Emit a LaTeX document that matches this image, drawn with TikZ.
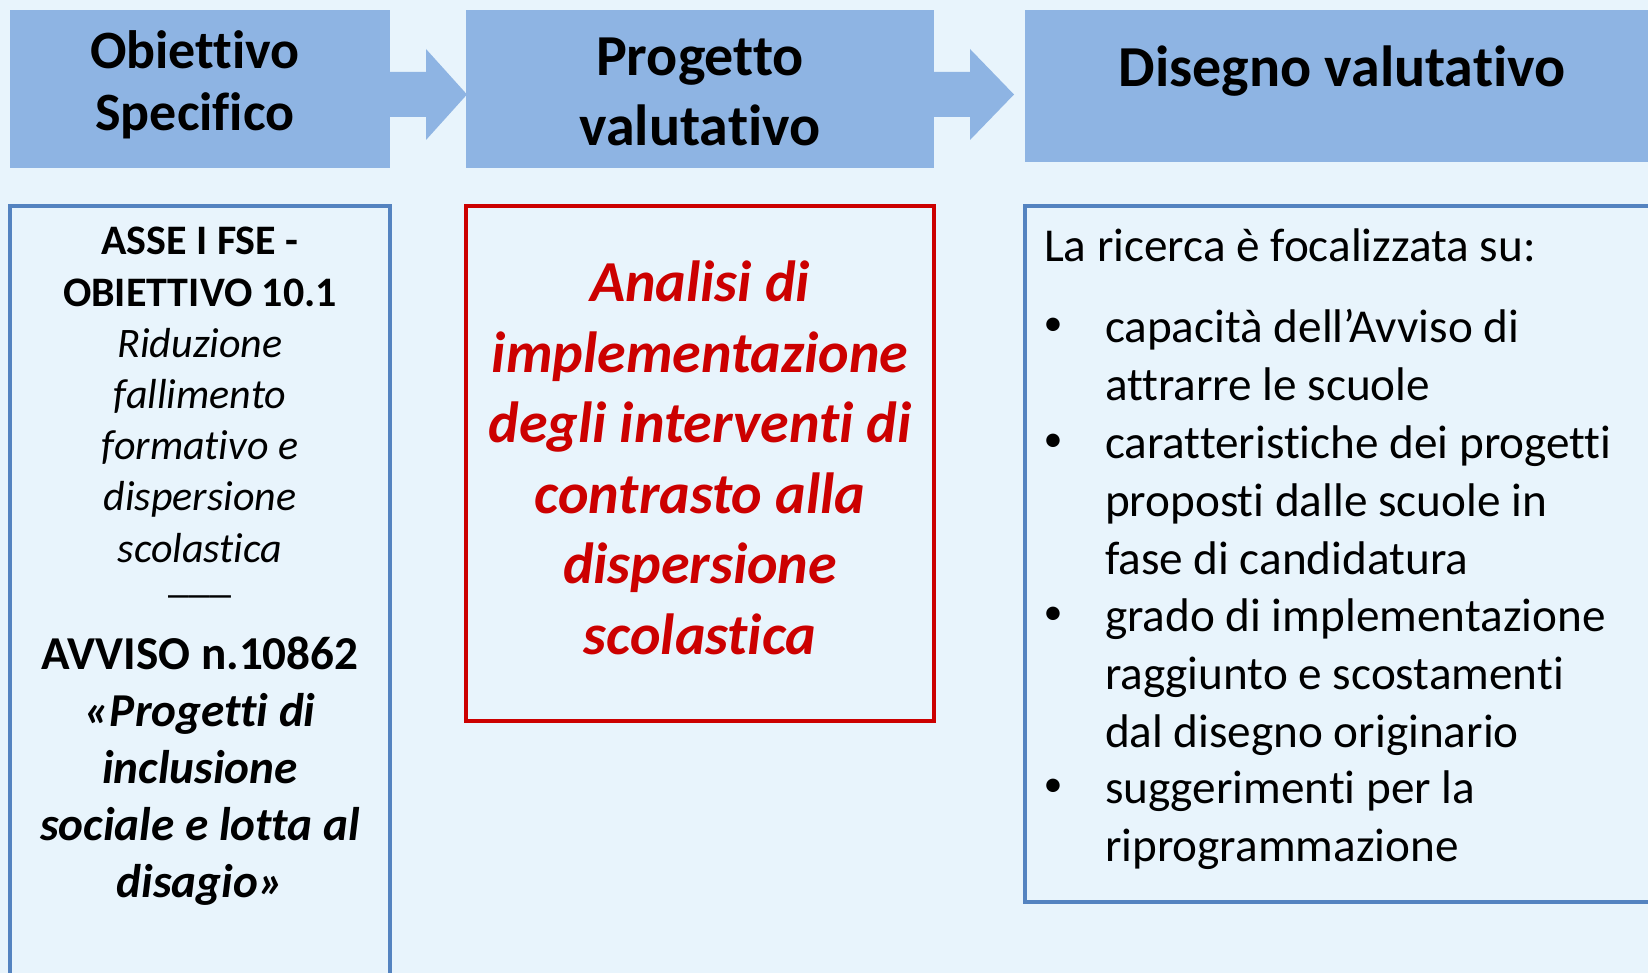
\documentclass[tikz,border=0pt]{standalone}
\usepackage{fontspec}
\setmainfont[Ligatures=NoCommon]{Carlito}
\usetikzlibrary{fit,calc}
\definecolor{bgc}{RGB}{232,244,252}
\definecolor{hdrc}{RGB}{142,180,227}
\definecolor{bluec}{RGB}{84,131,192}
\definecolor{redc}{RGB}{204,0,0}
\newcommand\fsz[2]{\fontsize{#1pt}{#2pt}\selectfont}
\begin{document}
\begin{tikzpicture}[x=0.5pt,y=-0.5pt,
  hdrbox/.style={fill=hdrc, inner sep=0pt, outer sep=0pt},
  frame/.style={draw=#1, line width=1.6pt, inner sep=0pt, outer sep=0pt},
  txt/.style={inner sep=0pt, outer sep=0pt},
  hdrtxt/.style={txt, align=center, anchor=north},
  bodytxt/.style={txt, font=\fsz{23.6}{28.85}},
  bul/.style={txt, anchor=center, font=\fsz{19}{23}}
]
\fill[bgc] (0,0) rectangle (1648,973);
\useasboundingbox (0,0) rectangle (1648,973);
\clip (0,0) rectangle (1648,973);

% header blocks
\node[hdrbox, fit={(10,10) (390,168)}] (h1) {};
\node[hdrbox, fit={(466,10) (934,168)}] (h2) {};
\node[hdrbox, fit={(1025,10) (1665,162)}] (h3) {};

% block arrows between headers
\fill[hdrc] ($(h1.north east)+(0,62)$) -- ++(36,0) -- ++(0,-23)
  -- ($(h2.north west)+(1,84.5)$) -- ($(h1.north east)+(36,130)$)
  -- ++(0,-23) -- ($(h1.north east)+(0,107)$) -- cycle;
\fill[hdrc] ($(h2.north east)+(0,62)$) -- ++(36,0) -- ++(0,-23)
  -- ($(h3.north west)+(-11,84.5)$) -- ($(h2.north east)+(36,130)$)
  -- ++(0,-23) -- ($(h2.north east)+(0,107)$) -- cycle;

% header texts
\node[hdrtxt, font=\bfseries\fsz{27}{31}] (t1) at (195,25.6) {\strut Obiettivo\\Specifico};
\node[hdrtxt, font=\bfseries\fsz{29}{35}] (t2) at (700,27) {\strut Progetto\\valutativo};
\node[txt, anchor=base, font=\bfseries\fsz{29}{35}] (t3) at (1342,87) {Disegno valutativo};

% lower frames
\node[frame=bluec, fit={(10,206) (390,990)}] (fl) {};
\node[frame=redc, fit={(466,206) (934,721)}] (fm) {};
\node[frame=bluec, fit={(1025,206) (1670,902)}] (fr) {};

% left column text
\node[hdrtxt, font=\fsz{21}{25.6}] (la) at (200,219)
  {\strut\textbf{ASSE I FSE -}\\\textbf{OBIETTIVO 10.1}\\\textit{Riduzione}\\\textit{fallimento}\\\textit{formativo e}\\\textit{dispersione}\\\textit{scolastica}};
\node[txt, anchor=base, font=\fsz{21}{25.6}] (lb) at (200,592) {\_\_\_};
\node[hdrtxt, font=\bfseries\fsz{23.6}{28.5}] (lc) at (200,630)
  {\strut AVVISO n.10862\\\textit{«Progetti di}\\\textit{inclusione}\\\textit{sociale e lotta al}\\\textit{disagio»}};

% middle text
\node[hdrtxt, text=redc, font=\bfseries\itshape\fsz{29}{35.25}] (mt) at (700,252.6)
  {\strut Analisi di\\implementazione\\degli interventi di\\contrasto alla\\dispersione\\scolastica};

% right text
\node[txt, anchor=base west, font=\fsz{23.6}{28.85}] (rt) at (1044,262) {La ricerca è focalizzata su:};
\node[bul] (b1) at (1053,327) {•};
\node[bul] (b2) at (1053,443) {•};
\node[bul] (b3) at (1053,616) {•};
\node[bul] (b4) at (1053,788) {•};
\node[bodytxt, anchor=north west, align=left] (i1) at (1105,302.6) {\strut capacità dell’Avviso di\\attrarre le scuole};
\node[bodytxt, anchor=north west, align=left] (i2) at (1105,418.6) {\strut caratteristiche dei progetti\\proposti dalle scuole in\\fase di candidatura};
\node[bodytxt, anchor=north west, align=left] (i3) at (1105,591.6) {\strut grado di implementazione\\raggiunto e scostamenti\\dal disegno originario};
\node[bodytxt, anchor=north west, align=left] (i4) at (1105,763.6) {\strut suggerimenti per la\\riprogrammazione};
\end{tikzpicture}
\end{document}
